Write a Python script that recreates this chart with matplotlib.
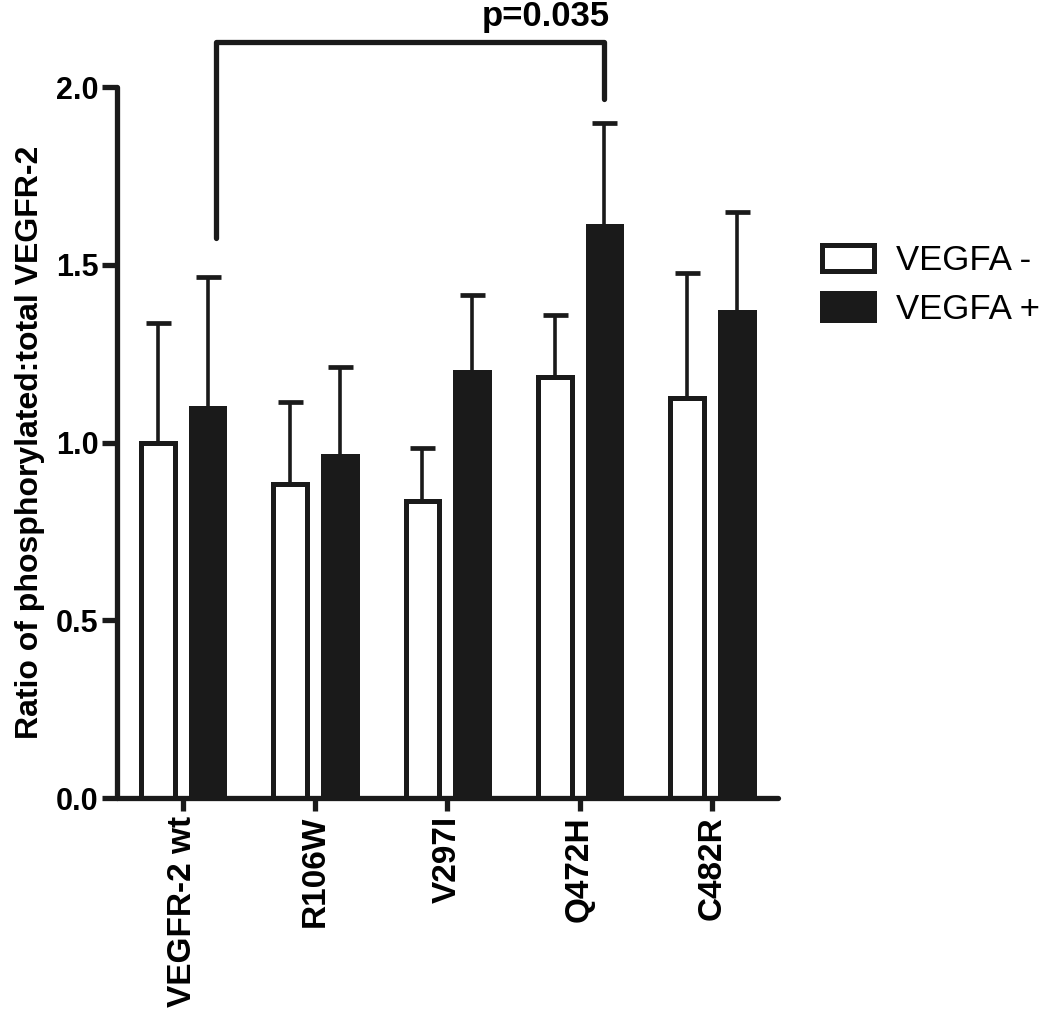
import matplotlib
matplotlib.use('Agg')
import matplotlib.pyplot as plt
import numpy as np

plt.rcParams['font.family'] = ['Liberation Sans', 'DejaVu Sans']

groups = ['VEGFR-2 wt', 'R106W', 'V297I', 'Q472H', 'C482R']
minus_vals = [1.00, 0.884, 0.835, 1.185, 1.126]
minus_err = [0.337, 0.230, 0.149, 0.175, 0.352]
plus_vals = [1.098, 0.961, 1.198, 1.609, 1.367]
plus_err = [0.368, 0.252, 0.216, 0.291, 0.283]
series_names = ['VEGFA -', 'VEGFA +']
p_text = 'p=0.035'

col = '#1a1a1a'

fig = plt.figure(figsize=(10.5, 10.14), dpi=100)
ax = fig.add_axes([0.111, 0.213, 0.63, 0.701])

x = np.arange(len(groups))
off = 0.188
w = 0.255

ax.bar(x - off, minus_vals, w, color='white', edgecolor=col, linewidth=3.6,
       label=series_names[0], zorder=2)
ax.bar(x + off, plus_vals, w, color=col, edgecolor=col, linewidth=3.6,
       label=series_names[1], zorder=2)

# only the upper half of the error bars is shown
ax.errorbar(x - off, minus_vals, yerr=[np.zeros(5), minus_err], fmt='none',
            ecolor=col, elinewidth=2.6, capsize=9, capthick=3.4, zorder=1)
ax.errorbar(x + off, plus_vals, yerr=[np.zeros(5), plus_err], fmt='none',
            ecolor=col, elinewidth=2.6, capsize=9, capthick=3.4, zorder=1)

ax.set_xlim(-0.5, 4.5)
ax.set_ylim(0, 2.0)
ax.set_yticks([0.0, 0.5, 1.0, 1.5, 2.0])
ax.set_yticklabels(['0.0', '0.5', '1.0', '1.5', '2.0'], fontsize=22, fontweight='bold')
ax.set_xticks(x)
ax.set_xticklabels(groups, rotation=90, fontsize=24, fontweight='bold')
ax.set_ylabel('Ratio of phosphorylated:total VEGFR-2', fontsize=23, fontweight='bold',
              labelpad=8)

for s in ['top', 'right']:
    ax.spines[s].set_visible(False)
for s in ['left', 'bottom']:
    ax.spines[s].set_linewidth(3.8)
    ax.spines[s].set_color(col)
    ax.spines[s].set_capstyle('round')
ax.tick_params(axis='y', length=11, width=3.8, color=col, pad=2)
ax.tick_params(axis='x', length=9, width=3.8, color=col, pad=4)

# significance bracket
bx1 = x[0] + off + 0.06
bx2 = x[3] + off
ytop = 2.127
ax.plot([bx1, bx1, bx2, bx2], [1.577, ytop, ytop, 1.966], color=col, lw=3.8,
        solid_capstyle='round', solid_joinstyle='round', clip_on=False)
ax.text(bx2 - 0.44, 2.152, p_text, fontsize=25, fontweight='bold', ha='center',
        va='bottom', clip_on=False)

fig.legend(loc='center left', bbox_to_anchor=(0.753, 0.719), frameon=False,
           fontsize=25, handlelength=1.5, handleheight=0.8, handletextpad=0.64,
           labelspacing=0.45, borderpad=0.4)

fig.savefig('out.png', dpi=100)
